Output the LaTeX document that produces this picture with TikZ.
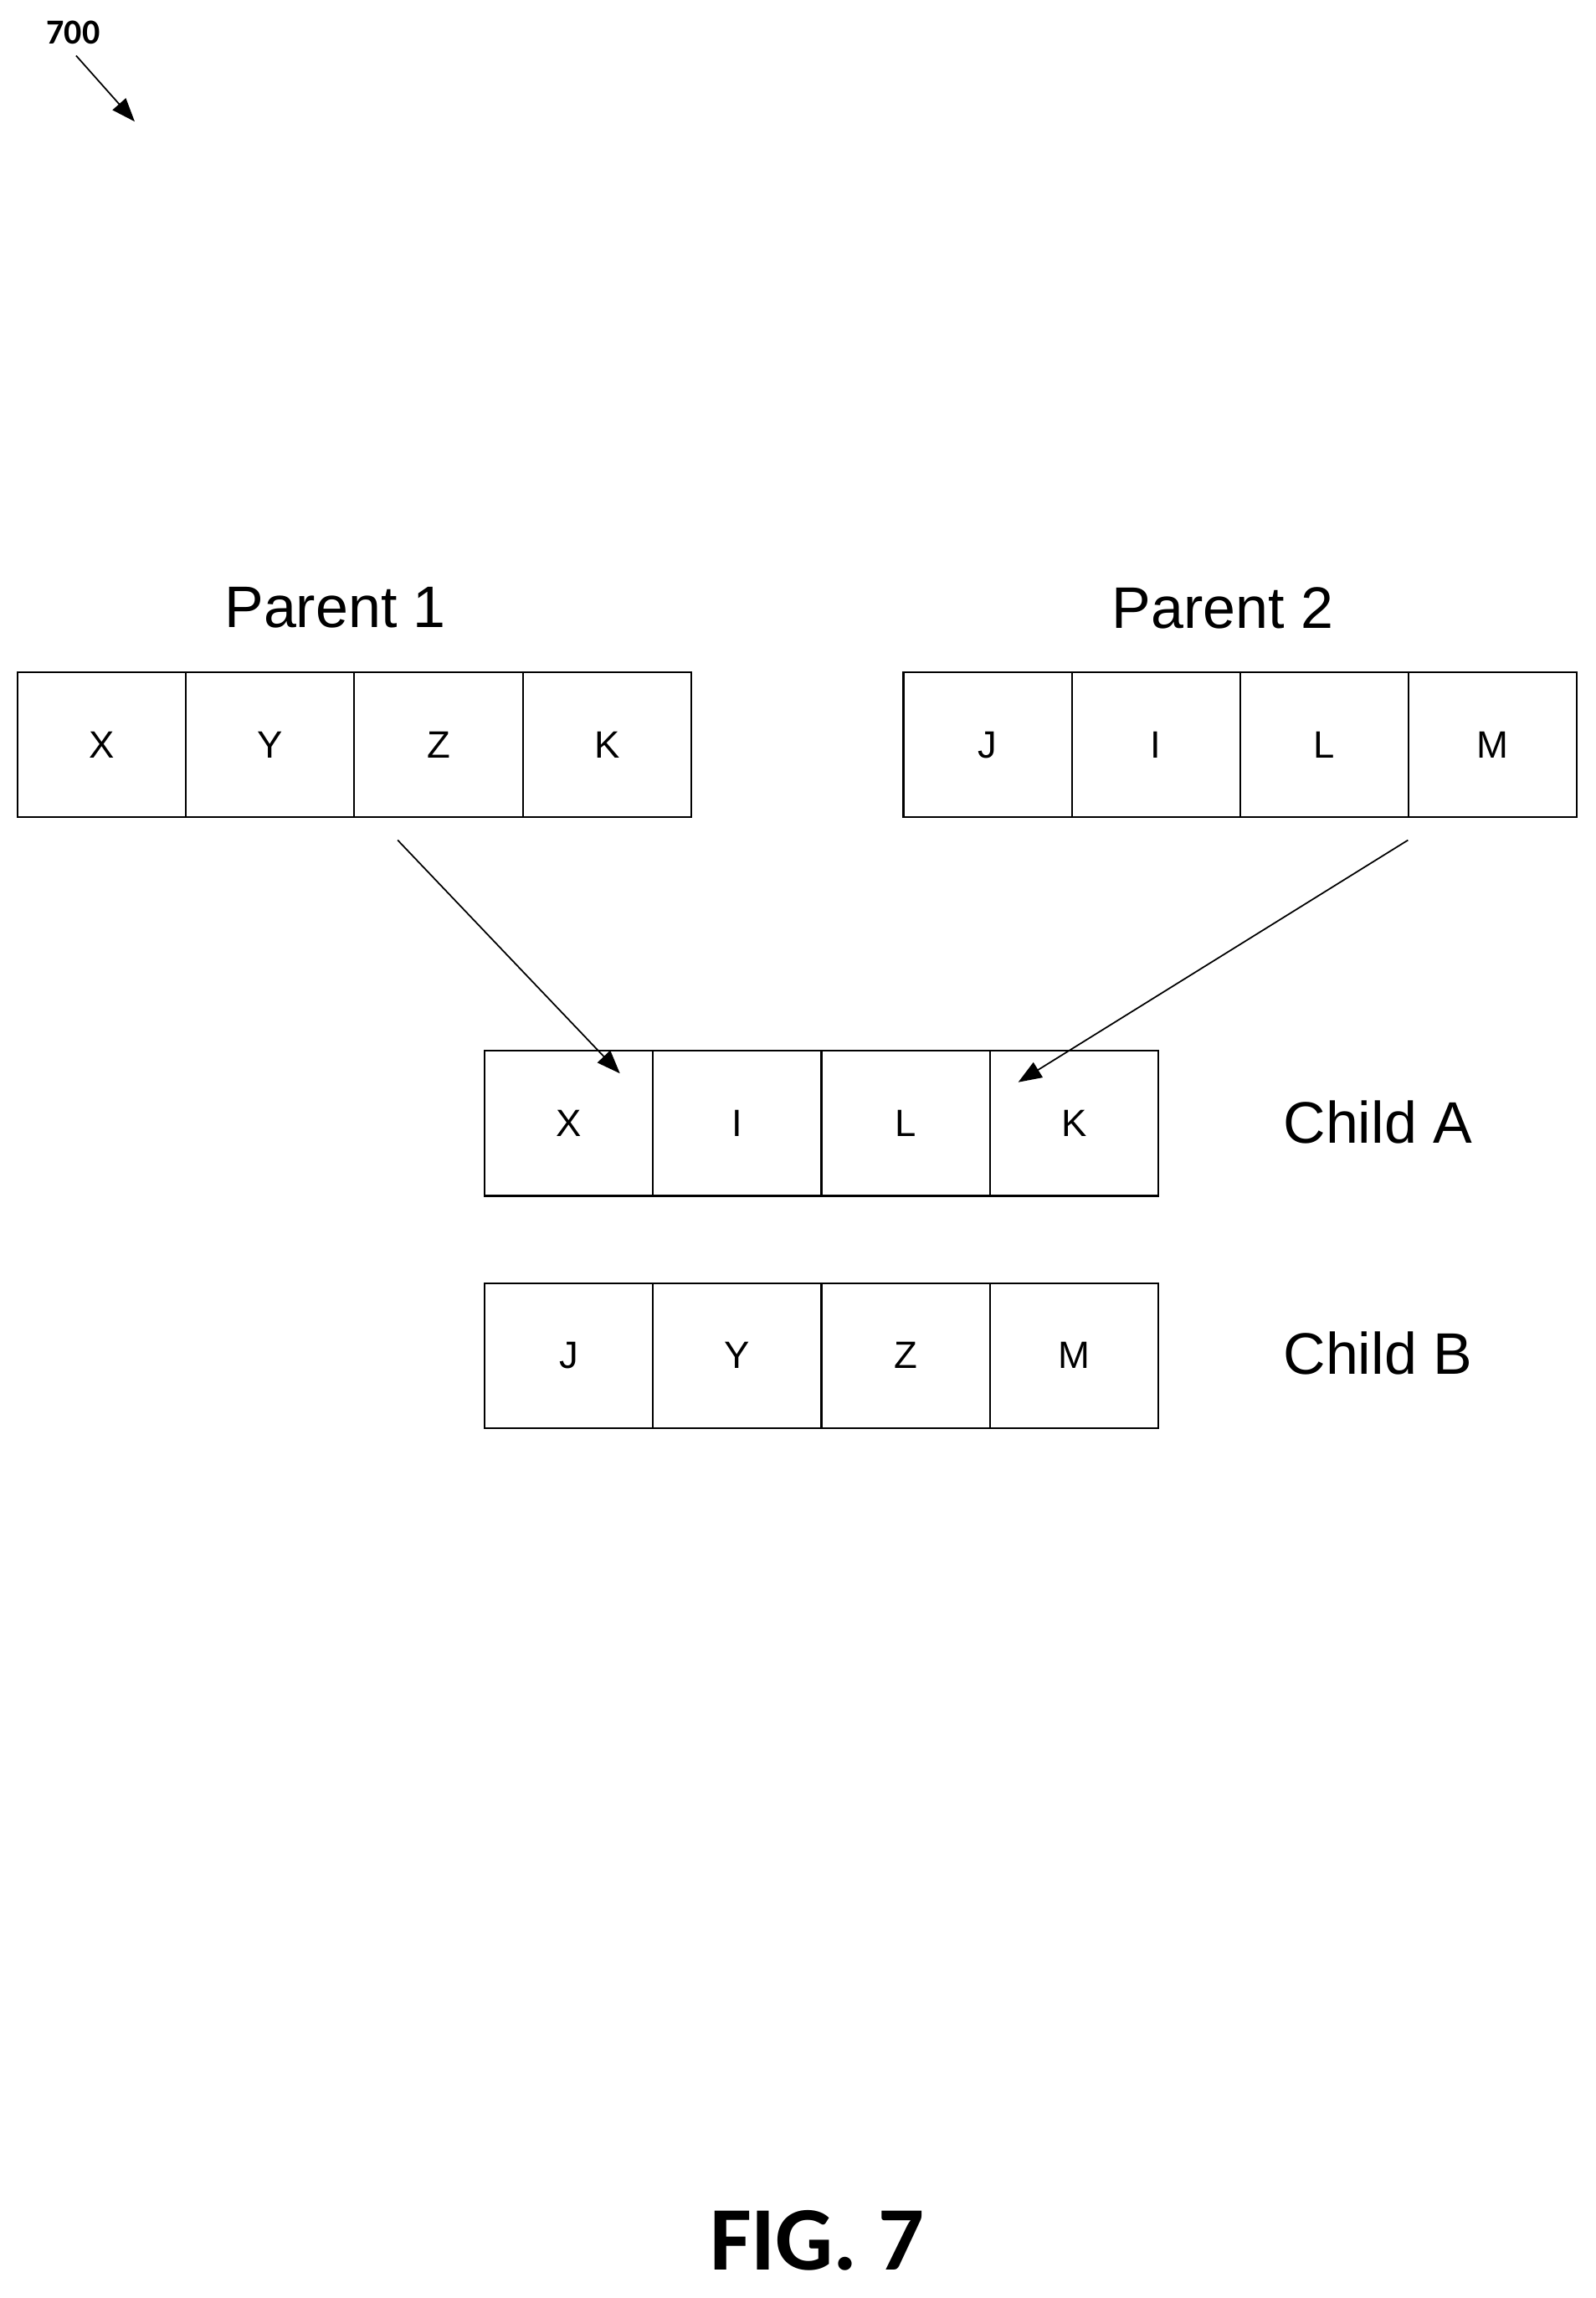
\documentclass[tikz,border=0pt]{standalone}
\usepackage{fontspec}
\setmainfont{Liberation Sans}
\newfontfamily\carlitofont{Carlito}
\usetikzlibrary{arrows.meta}
\begin{document}
\begin{tikzpicture}[x=1pt,y=-1pt,
  cell/.style={draw,line width=1.2pt,minimum width=115pt,minimum height=99pt,inner sep=0,font=\fontsize{26}{30}\selectfont},
  lbl/.style={font=\fontsize{40}{46}\selectfont},
  arr/.style={line width=1pt,-{Triangle[length=16pt,width=12pt]}}]
\useasboundingbox (0,0) rectangle (1090,1569);
\node[font=\carlitofont\bfseries\fontsize{24}{28}\selectfont] (n700) at (50,22) {700};
\coordinate (a0) at (52,38); \coordinate (a1) at (92,83);
\draw[arr] (a0) -- (a1);
\foreach \t [count=\i] in {X,Y,Z,K}{\node[cell] (p1\i) at (12+57.5+115*\i-115,508.5) {\t};}
\foreach \t [count=\i] in {J,I,L,M}{\node[cell] (p2\i) at (617+57.5+115*\i-115,508.5) {\t};}
\foreach \t [count=\i] in {X,I,L,K}{\node[cell] (ca\i) at (331+57.5+115*\i-115,767) {\t};}
\foreach \t [count=\i] in {J,Y,Z,M}{\node[cell] (cb\i) at (331+57.5+115*\i-115,925.5) {\t};}
\node[lbl] (lp1) at (229,415) {Parent 1};
\node[lbl] (lp2) at (835,415) {Parent 2};
\node[lbl] (lca) at (941,766) {Child A};
\node[lbl] (lcb) at (941,924) {Child B};
\draw[arr] ([xshift=29pt,yshift=-15pt]p12.south east) -- ([xshift=-22pt,yshift=-16pt]ca2.north west);
\draw[arr] ([xshift=-1pt,yshift=-15pt]p23.south east) -- ([xshift=20pt,yshift=-22pt]ca4.north west);
\node[font=\carlitofont\bfseries\fontsize{62}{70}\selectfont] (fig) at (558,1530) {FIG. 7};
\end{tikzpicture}
\end{document}
